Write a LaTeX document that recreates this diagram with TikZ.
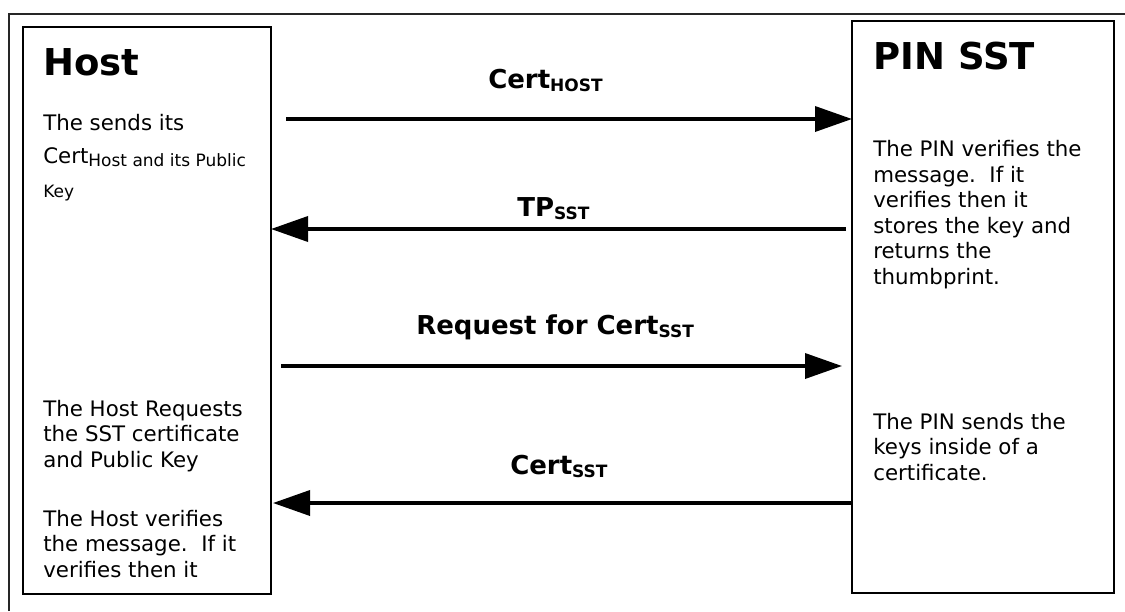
\documentclass[tikz,border=0pt]{standalone}
\usepackage{fontspec}
\setmainfont{DejaVu Sans}
\usetikzlibrary{arrows.meta,calc}
\newcommand{\lowsub}[1]{\raisebox{-2.25pt}{\fontsize{12.75pt}{15pt}\selectfont #1}}
\begin{document}
\begin{tikzpicture}[x=0.75pt,y=-0.75pt,
  party/.style={draw=black, line width=1.4pt, inner sep=0pt, outer sep=0pt, anchor=north west},
  title/.style={anchor=base west, inner sep=0pt, font=\fontsize{27.75pt}{32pt}\selectfont\bfseries},
  body/.style={anchor=base west, inner sep=0pt, align=left, font=\fontsize{16pt}{19.1pt}\selectfont},
  small/.style={anchor=base west, inner sep=0pt, font=\fontsize{12.75pt}{15pt}\selectfont},
  msglabel/.style={anchor=base west, inner sep=0pt, font=\fontsize{19.5pt}{23pt}\selectfont\bfseries},
  msg/.style={line width=2.7pt, -{Triangle[length=27.75pt,width=18.75pt]}},
]
\useasboundingbox (0,0) rectangle (1125,611);
\draw[line width=1.5pt, black!85] (9,611) -- (9,14) -- (1125,14);

\node[party, minimum width=186pt, minimum height=425.25pt] (host) at (23,27) {};
\node[party, minimum width=196.5pt, minimum height=429pt] (pin) at (852,21) {};

% multi-line texts are placed by the baseline of their last line
\node[title] (hosttitle) at (43,75) {Host};
\node[body] (hostl1) at (43,130) {The sends its};
\node[body] (hostl2) at (43,163) {Cert\lowsub{Host and its Public}};
\node[small] (hostl3) at (43,197) {Key};
\node[body] (hostreq) at (43,467) {The Host Requests\\the SST certificate\\and Public Key};
\node[body] (hostver) at (43,577) {The Host verifies\\the message.\ \ If it\\verifies then it};

\node[title] (pintitle) at (873,69) {PIN SST};
\node[body] (pinver) at (873,284) {The PIN verifies the\\message.\ \ If it\\verifies then it\\stores the key and\\returns the\\thumbprint.};
\node[body] (pinsend) at (873,480) {The PIN sends the\\keys inside of a\\certificate.};

\coordinate (y1) at (0,119);
\coordinate (y2) at (0,229);
\coordinate (y3) at (0,366);
\coordinate (y4) at (0,503);

\node[msglabel] (l1) at (488,88) {Cert\lowsub{HOST}};
\node[msglabel] (l2) at (517,216) {TP\lowsub{SST}};
\node[msglabel] (l3) at (416,334) {Request for Cert\lowsub{SST}};
\node[msglabel] (l4) at (510,474) {Cert\lowsub{SST}};

\draw[msg] ($(host.east |- y1)+(15,0)$) -- (pin.west |- y1);
\draw[msg] ($(pin.west |- y2)+(-6,0)$) -- (host.east |- y2);
\draw[msg] ($(host.east |- y3)+(10,0)$) -- ($(pin.west |- y3)+(-10,0)$);
\draw[msg] ($(pin.west |- y4)+(-1,0)$) -- ($(host.east |- y4)+(2,0)$);
\end{tikzpicture}
\end{document}
